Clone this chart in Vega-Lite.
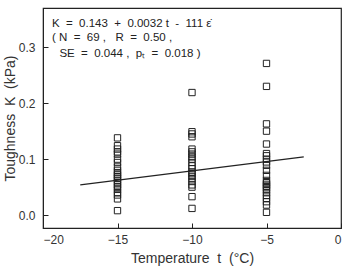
{
  "$schema": "https://vega.github.io/schema/vega-lite/v6.json",
  "width": 298,
  "height": 220,
  "autosize": {"type": "none"},
  "padding": {"left": 43, "top": 8, "right": 9, "bottom": 44},
  "background": "white",
  "config": {
    "view": {"stroke": "#222", "strokeWidth": 1.2},
    "font": "Liberation Sans",
    "axis": {"domainColor": "#222", "tickColor": "#222", "labelColor": "#333", "titleColor": "#333", "grid": false, "labelFont": "Liberation Sans", "titleFont": "Liberation Sans", "titleFontWeight": "normal"}
  },
  "datasets": {
    "pts": [
      {"t": -15, "K": 0.138}, {"t": -15, "K": 0.124}, {"t": -15, "K": 0.118}, {"t": -15, "K": 0.113},
      {"t": -15, "K": 0.109}, {"t": -15, "K": 0.100}, {"t": -15, "K": 0.094}, {"t": -15, "K": 0.086},
      {"t": -15, "K": 0.080}, {"t": -15, "K": 0.076}, {"t": -15, "K": 0.072}, {"t": -15, "K": 0.069},
      {"t": -15, "K": 0.066}, {"t": -15, "K": 0.062}, {"t": -15, "K": 0.058}, {"t": -15, "K": 0.054},
      {"t": -15, "K": 0.050}, {"t": -15, "K": 0.046}, {"t": -15, "K": 0.040}, {"t": -15, "K": 0.036},
      {"t": -15, "K": 0.029}, {"t": -15, "K": 0.008},
      {"t": -10, "K": 0.219}, {"t": -10, "K": 0.149}, {"t": -10, "K": 0.145}, {"t": -10, "K": 0.140},
      {"t": -10, "K": 0.118}, {"t": -10, "K": 0.113}, {"t": -10, "K": 0.109}, {"t": -10, "K": 0.104},
      {"t": -10, "K": 0.100}, {"t": -10, "K": 0.094}, {"t": -10, "K": 0.088}, {"t": -10, "K": 0.083},
      {"t": -10, "K": 0.077}, {"t": -10, "K": 0.074}, {"t": -10, "K": 0.069}, {"t": -10, "K": 0.065},
      {"t": -10, "K": 0.060}, {"t": -10, "K": 0.054}, {"t": -10, "K": 0.050}, {"t": -10, "K": 0.033},
      {"t": -10, "K": 0.012},
      {"t": -5, "K": 0.271}, {"t": -5, "K": 0.230}, {"t": -5, "K": 0.163}, {"t": -5, "K": 0.150},
      {"t": -5, "K": 0.127}, {"t": -5, "K": 0.110}, {"t": -5, "K": 0.106}, {"t": -5, "K": 0.100},
      {"t": -5, "K": 0.095}, {"t": -5, "K": 0.089}, {"t": -5, "K": 0.080}, {"t": -5, "K": 0.071},
      {"t": -5, "K": 0.062}, {"t": -5, "K": 0.058}, {"t": -5, "K": 0.055}, {"t": -5, "K": 0.052},
      {"t": -5, "K": 0.049}, {"t": -5, "K": 0.045}, {"t": -5, "K": 0.040}, {"t": -5, "K": 0.035},
      {"t": -5, "K": 0.030}, {"t": -5, "K": 0.024}, {"t": -5, "K": 0.018}, {"t": -5, "K": 0.005}
    ],
    "fit": [{"t": -17.5, "K": 0.054}, {"t": -2.5, "K": 0.104}],
    "notes": [
      {"t": -19.4, "K": 0.341, "txt": "K\u00a0 =\u00a0 0.143\u00a0 +\u00a0 0.0032 t\u00a0 -\u00a0 111 ε̇"},
      {"t": -19.4, "K": 0.317, "txt": "(\u00a0N\u00a0 =\u00a0 69 ,\u00a0 \u00a0R\u00a0 =\u00a0 0.50 ,"},
      {"t": -18.9, "K": 0.288, "txt": "SE\u00a0 =\u00a0 0.044 ,\u00a0 pₜ\u00a0 =\u00a0 0.018 )"}
    ]
  },
  "layer": [
    {
      "data": {"name": "pts"},
      "mark": {"type": "point", "shape": "square", "filled": false, "stroke": "#222", "strokeWidth": 1, "size": 40, "opacity": 1},
      "encoding": {
        "x": {"field": "t", "type": "quantitative",
          "scale": {"domain": [-20, 0], "nice": false, "zero": false},
          "axis": {"values": [-20, -17.5, -15, -12.5, -10, -7.5, -5, -2.5, 0], "labelExpr": "datum.value % 5 == 0 ? datum.label : ''",
            "tickSize": -5, "labelPadding": 11, "labelFontSize": 12, "title": "Temperature\u00a0 t\u00a0 (°C)", "titleFontSize": 14, "titlePadding": 6, "domain": true}},
        "y": {"field": "K", "type": "quantitative",
          "scale": {"domain": [-0.023, 0.37], "nice": false, "zero": false},
          "axis": {"values": [0, 0.05, 0.1, 0.15, 0.2, 0.25, 0.3, 0.35], "labelExpr": "abs(datum.value*10 - round(datum.value*10)) < 0.001 ? format(datum.value, '.1f') : ''",
            "tickSize": -5, "labelPadding": 13, "labelFontSize": 12, "title": "Toughness\u00a0 K\u00a0 (kPa)", "titleFontSize": 14, "titlePadding": 1}}
      }
    },
    {
      "data": {"name": "fit"},
      "mark": {"type": "line", "color": "#222", "strokeWidth": 1.3},
      "encoding": {"x": {"field": "t", "type": "quantitative"}, "y": {"field": "K", "type": "quantitative"}}
    },
    {
      "data": {"name": "notes"},
      "mark": {"type": "text", "align": "left", "baseline": "middle", "fontSize": 11.5, "color": "#222", "font": "Liberation Sans"},
      "encoding": {"x": {"field": "t", "type": "quantitative"}, "y": {"field": "K", "type": "quantitative"}, "text": {"field": "txt"}}
    }
  ]
}
